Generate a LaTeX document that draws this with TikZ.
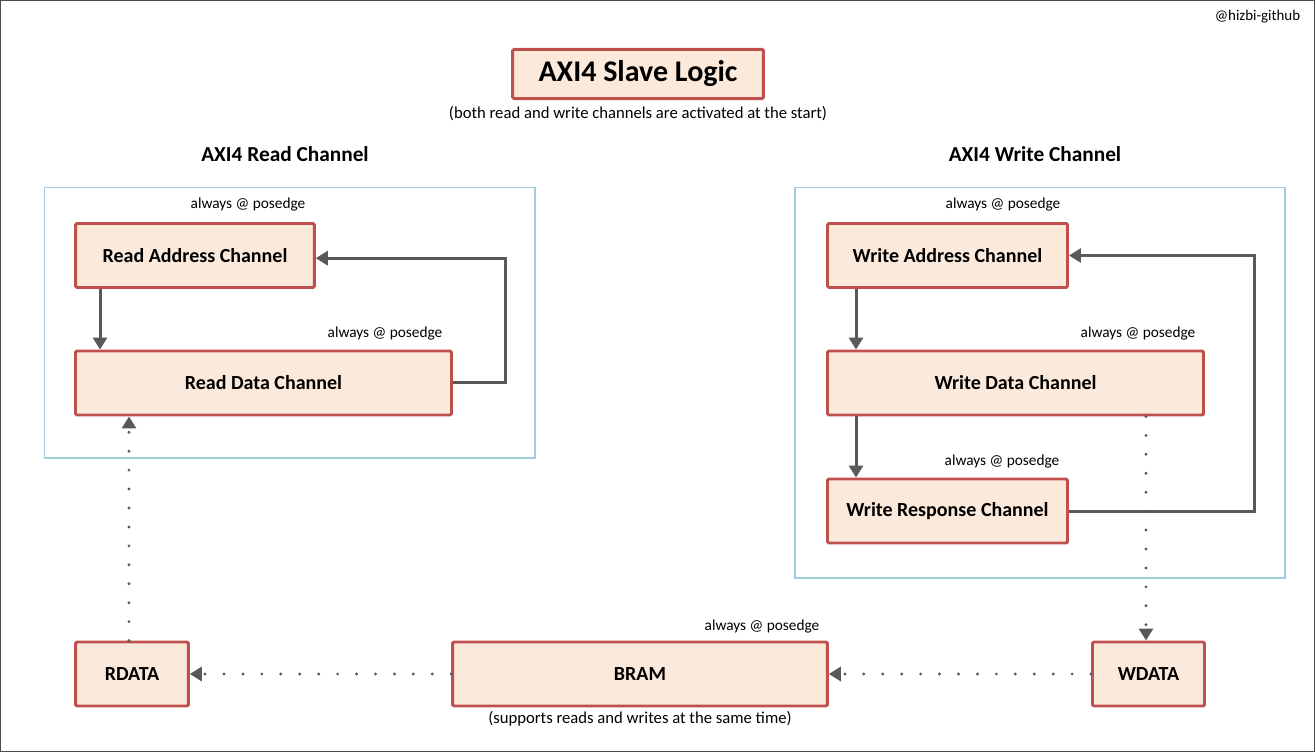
\documentclass[tikz,border=0pt]{standalone}
\usepackage{fontspec}
\setmainfont{Carlito}
\usetikzlibrary{arrows.meta,calc}
\definecolor{boxred}{HTML}{C0504D}
\definecolor{boxfill}{HTML}{FBE9DB}
\definecolor{contblue}{HTML}{9DD0DB}
\definecolor{arrgray}{HTML}{595959}
\tikzset{
  blk/.style={draw=boxred, fill=boxfill, line width=2.2pt, rounded corners=1pt,
    font=\fontsize{15}{17}\selectfont\bfseries, minimum height=48pt, inner sep=0pt},
  cont/.style={draw=contblue, line width=1.1pt},
  arr/.style={draw=arrgray, line width=2.25pt, -{Triangle[length=9pt,width=10.5pt]}},
  dotarr/.style={draw=arrgray, line width=2.4pt, line cap=round, dash pattern=on 0pt off 14.2pt,
    -{Triangle[length=9pt,width=10.5pt]}},
  lbl/.style={font=\fontsize{11.5}{13}\selectfont, inner sep=0pt},
  note/.style={font=\fontsize{12.5}{14}\selectfont, inner sep=0pt},
  head/.style={font=\fontsize{16}{18}\selectfont\bfseries, inner sep=0pt},
}
\begin{document}
\begin{tikzpicture}[x=0.75pt,y=-0.75pt]
\useasboundingbox (0,0) rectangle (1315,752);
\draw[draw=black!70, line width=0.8pt] (0.6,0.6) rectangle (1314.4,751.4);
\node[lbl, font=\fontsize{11.2}{13}\selectfont] (sig) at (1257.5,17) {@hizbi-github};

% title
\node[blk, minimum width=188pt, minimum height=37pt, font=\fontsize{22.5}{26}\selectfont\bfseries] (title) at (638,74) {AXI4 Slave Logic};
\node[note] (sub) at (638,114) {(both read and write channels are activated at the start)};

% headings
\node[head] (hr) at (285,154) {AXI4 Read Channel};
\node[head] (hw) at (1035,154) {AXI4 Write Channel};

% containers
\draw[cont] (44.5,187.5) rectangle (535,458);
\draw[cont] (795,187.5) rectangle (1285,578);

% read side
\node[blk, minimum width=179pt] (rac) at (195,255.5) {Read Address Channel};
\node[blk, minimum width=282pt] (rdc) at (263.5,383) {Read Data Channel};
\node[lbl] (l1) at (248,204) {always @ posedge};
\node[lbl] (l2) at (385,333) {always @ posedge};

% write side
\node[blk, minimum width=180pt] (wac) at (947.5,255.5) {Write Address Channel};
\node[blk, minimum width=282pt] (wdc) at (1015.5,383) {Write Data Channel};
\node[blk, minimum width=180pt] (wrc) at (947.5,511) {Write Response Channel};
\node[lbl] (l3) at (1003,204) {always @ posedge};
\node[lbl] (l4) at (1138,333) {always @ posedge};
\node[lbl] (l5) at (1002,461) {always @ posedge};

% bottom
\node[blk, minimum width=84.5pt] (rdata) at (132,674) {RDATA};
\node[blk, minimum width=281pt] (bram) at (640,674) {BRAM};
\node[blk, minimum width=84pt] (wdata) at (1148.5,674) {WDATA};
\node[lbl] (l6) at (762,626) {always @ posedge};
\node[note] (bsub) at (640,719) {(supports reads and writes at the same time)};

% helper x coordinates
\coordinate (xrl) at (100,0);
\coordinate (xrr) at (505,0);
\coordinate (xrd) at (129,0);
\coordinate (xwl) at (856,0);
\coordinate (xwr) at (1254,0);
\coordinate (xwd) at (1146,0);

% read arrows
\draw[arr] (rac.south -| xrl) -- (rdc.north -| xrl);
\draw[arr] (rdc.east) -- (rdc.east -| xrr) |- ([yshift=-2pt]rac.east);
\draw[dotarr] (rdata.north -| xrd) -- (rdc.south -| xrd);

% write arrows
\draw[arr] (wac.south -| xwl) -- (wdc.north -| xwl);
\draw[arr] (wdc.south -| xwl) -- (wrc.north -| xwl);
\draw[arr] (wrc.east) -- (wrc.east -| xwr) |- (wac.east);
\draw[dotarr] (wdc.south -| xwd) -- (wdata.north -| xwd);

% bottom dotted
\draw[dotarr] (wdata.west) -- (bram.east);
\draw[dotarr] (bram.west) -- (rdata.east);
\end{tikzpicture}
\end{document}
